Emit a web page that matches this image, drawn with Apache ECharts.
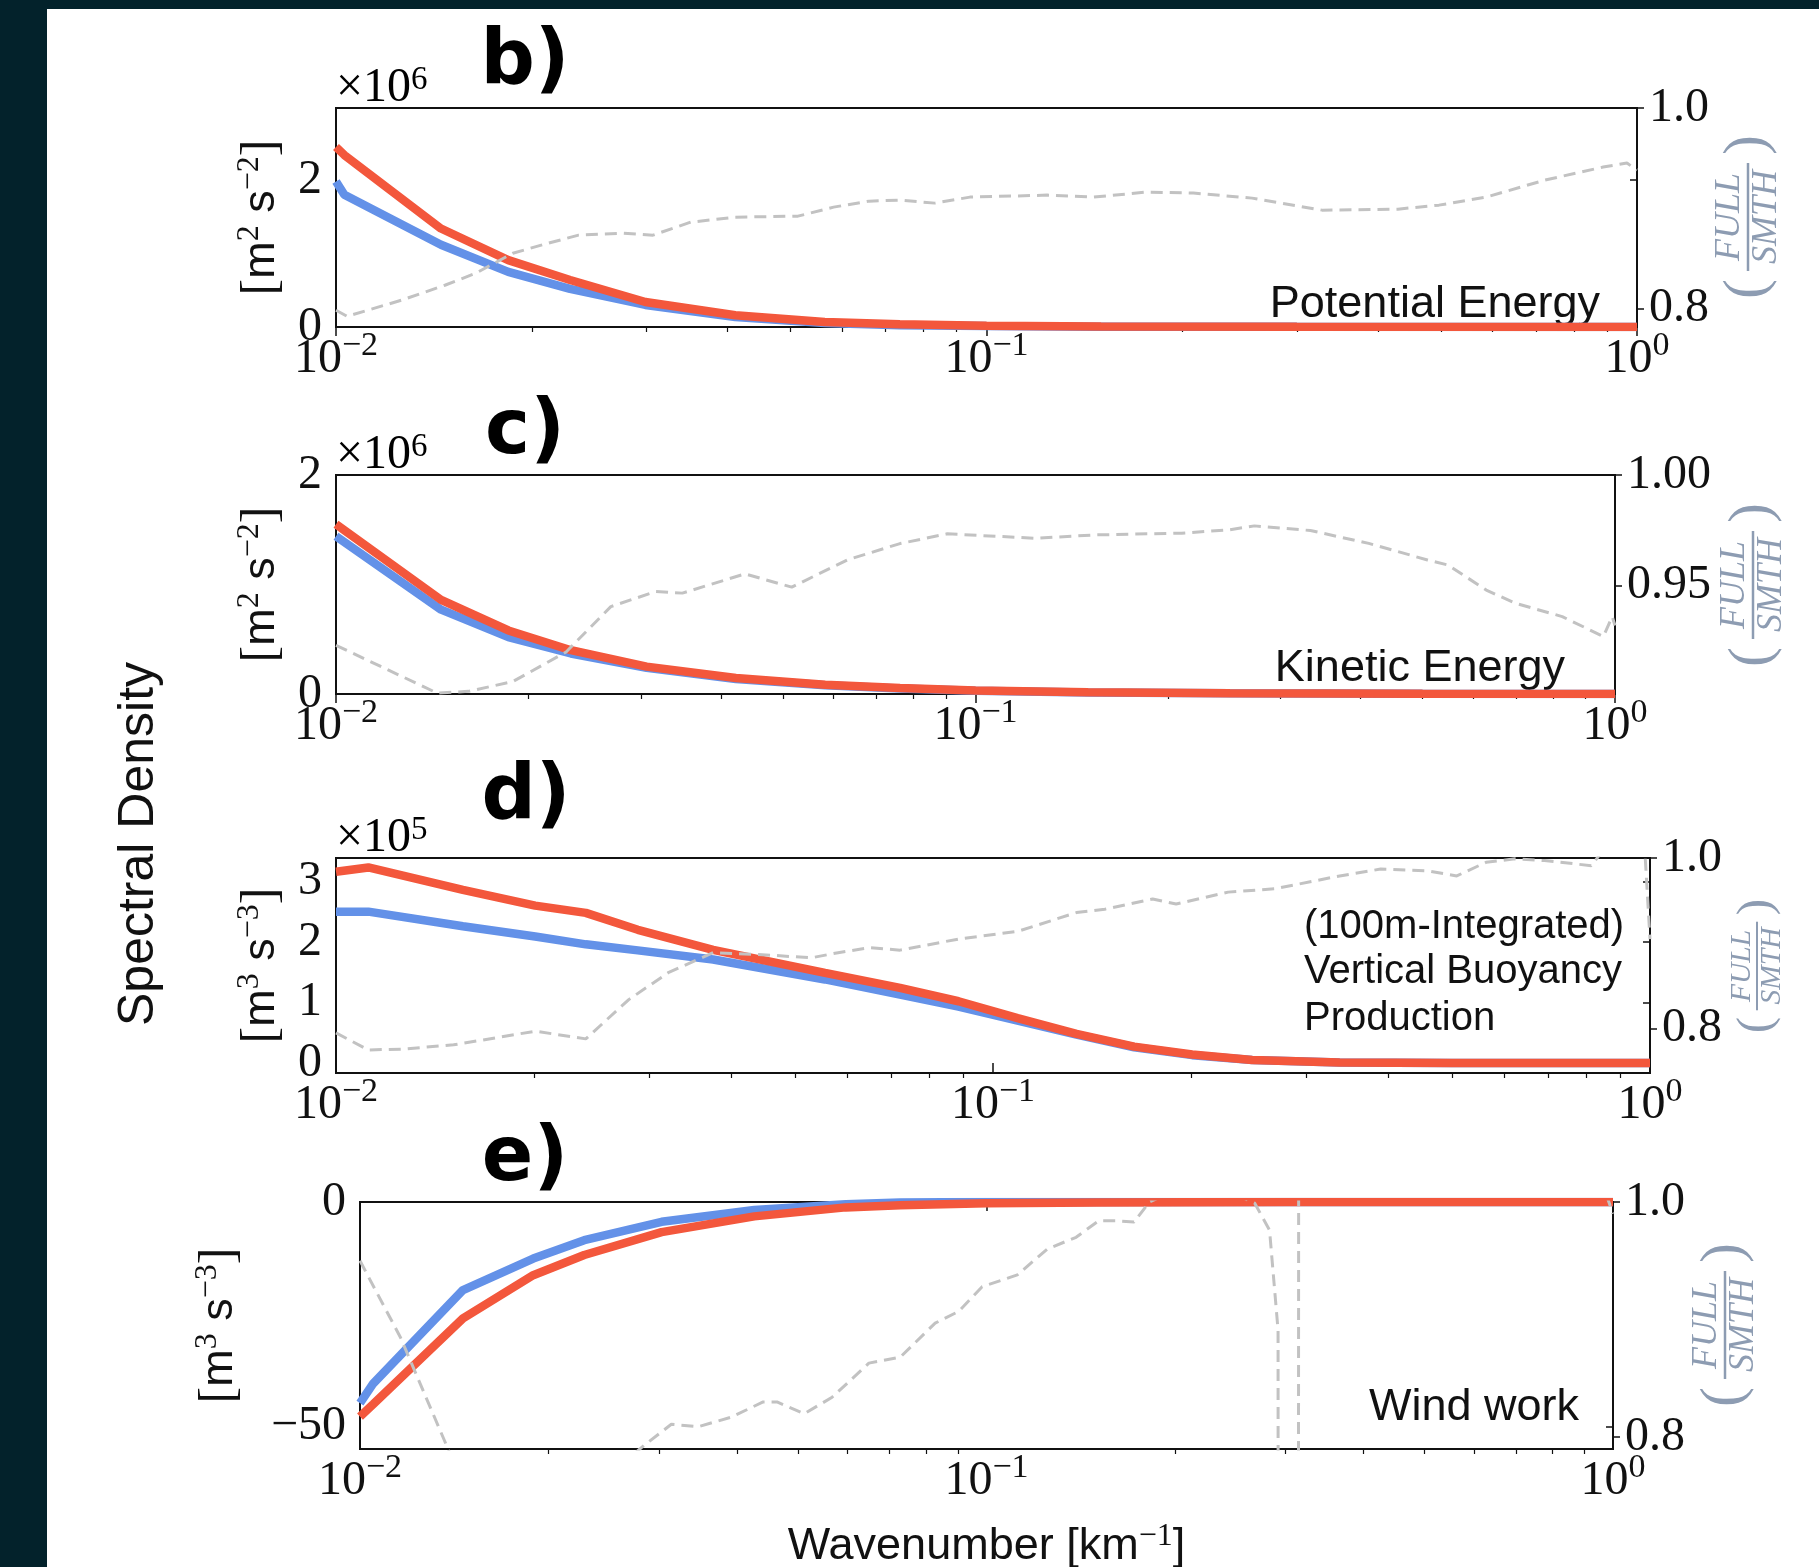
<!DOCTYPE html>
<html>
<head>
<meta charset="utf-8">
<script src="https://cdn.jsdelivr.net/npm/echarts@6/dist/echarts.min.js"></script>
<style>
html, body { margin: 0; padding: 0; background: #03222b; }
#paper { position: absolute; left: 47px; top: 9px; width: 1772px; height: 1558px; background: #fff; }
#chart { position: absolute; left: 0; top: 0; width: 1819px; height: 1567px; }
</style>
</head>
<body>
<div id="paper"></div>
<div id="chart"></div>
<script>
// b) potential energy, units of 1e6 m2 s-2
const kB = [0.01, 0.0103, 0.0145, 0.0184, 0.0229, 0.0299, 0.0411, 0.0564, 0.0736, 0.1, 0.15, 0.3, 1.0]
const peSmth = [2.45, 2.34, 1.34, 0.91, 0.64, 0.34, 0.16, 0.068, 0.037, 0.018, 0.008, 0.003, 0.0]
const peFull = [1.98, 1.80, 1.12, 0.75, 0.52, 0.30, 0.136, 0.055, 0.023, 0.012, 0.005, 0.002, 0.0]
const peRatioK = [0.01, 0.0104, 0.0126, 0.0147, 0.0164, 0.0187, 0.0212, 0.0236, 0.0277, 0.0307,
    0.0351, 0.0411, 0.0513, 0.0582, 0.0660, 0.0736, 0.0833, 0.0943, 0.124, 0.146,
    0.176, 0.208, 0.256, 0.328, 0.429, 0.496, 0.586, 0.722, 0.887, 0.965, 1.0]
const peRatio = [0.798, 0.792, 0.808, 0.823, 0.835, 0.855, 0.865, 0.873, 0.875, 0.873,
    0.886, 0.891, 0.892, 0.901, 0.907, 0.908, 0.905, 0.911, 0.913, 0.911,
    0.916, 0.915, 0.910, 0.898, 0.899, 0.903, 0.911, 0.928, 0.941, 0.945, 0.938]

// c) kinetic energy, units of 1e6 m2 s-2
const kC = [0.01, 0.0146, 0.0186, 0.0233, 0.0306, 0.0422, 0.0582, 0.0762, 0.1, 0.15, 0.25, 0.5, 1.0]
const keSmth = [1.55, 0.86, 0.58, 0.40, 0.25, 0.146, 0.085, 0.055, 0.033, 0.016, 0.007, 0.003, 0.001]
const keFull = [1.44, 0.77, 0.52, 0.37, 0.24, 0.137, 0.080, 0.050, 0.030, 0.014, 0.006, 0.002, 0.001]
const keRatioK = [0.01, 0.0144, 0.0161, 0.0189, 0.0229, 0.0269, 0.0316, 0.0348, 0.0436, 0.0516,
    0.063, 0.0762, 0.0903, 0.124, 0.153, 0.210, 0.249, 0.273, 0.334, 0.412,
    0.509, 0.548, 0.629, 0.699, 0.827, 0.959, 0.99, 1.0]
const keRatio = [0.923, 0.9014, 0.9022, 0.9066, 0.920, 0.9405, 0.9473, 0.9466, 0.9553, 0.9493,
    0.9616, 0.969, 0.9734, 0.9714, 0.9729, 0.9737, 0.9752, 0.977, 0.9749, 0.9691,
    0.9616, 0.9593, 0.948, 0.942, 0.936, 0.927, 0.936, 0.932]

// d) vertical buoyancy production, units of 1e5 m3 s-3
const kD = [0.01, 0.0112, 0.0156, 0.0201, 0.024, 0.0288, 0.0375, 0.0555, 0.0722, 0.0886,
    0.109, 0.134, 0.164, 0.201, 0.248, 0.337, 0.5, 1.0]
const vbSmth = [3.16, 3.23, 2.86, 2.60, 2.48, 2.20, 1.87, 1.49, 1.24, 1.02,
    0.74, 0.48, 0.27, 0.14, 0.05, 0.01, 0.0, 0.0]
const vbFull = [2.50, 2.50, 2.26, 2.09, 1.96, 1.86, 1.71, 1.38, 1.13, 0.93,
    0.70, 0.47, 0.26, 0.13, 0.05, 0.01, 0.0, 0.0]
const vbRatioK = [0.01, 0.0112, 0.0126, 0.0151, 0.0201, 0.024, 0.0279, 0.0321, 0.0375, 0.0439,
    0.0529, 0.0581, 0.0649, 0.0722, 0.0886, 0.109, 0.134, 0.148, 0.175, 0.190,
    0.228, 0.269, 0.337, 0.389, 0.458, 0.508, 0.563, 0.623, 0.691, 0.814, 0.87, 0.98, 1.0]
const vbRatio = [0.795, 0.775, 0.776, 0.781, 0.797, 0.788, 0.834, 0.866, 0.889, 0.887,
    0.883, 0.889, 0.895, 0.892, 0.905, 0.914, 0.936, 0.940, 0.952, 0.946,
    0.960, 0.964, 0.979, 0.987, 0.985, 0.979, 0.995, 0.999, 0.997, 0.991, 1.02, 1.02, 0.905]

// e) wind work, m3 s-3
const kE = [0.01, 0.0105, 0.0146, 0.0189, 0.0228, 0.0303, 0.0426, 0.0596, 0.0728, 0.1, 0.15, 0.3, 1.0]
const wwSmth = [-47.8, -45.0, -25.9, -16.3, -11.8, -6.7, -3.2, -1.2, -0.7, -0.3, -0.1, 0, 0]
const wwFull = [-44.8, -40.4, -19.6, -12.6, -8.5, -4.4, -1.8, -0.5, -0.1, 0, 0, 0, 0]
const wwRatioK = [0.01, 0.0116, 0.0145, 0.0189, 0.0228, 0.0284, 0.0314, 0.0347, 0.0391, 0.044,
    0.0463, 0.0512, 0.0567, 0.0649, 0.0728, 0.0828, 0.0903, 0.0984, 0.112, 0.125,
    0.139, 0.151, 0.162, 0.172, 0.182, 0.22, 0.268, 0.283, 0.292, 0.3006,
    0.3285, 0.4, 0.6, 0.8, 0.97, 1.0]
const wwRatio = [0.950, 0.885, 0.764, 0.74, 0.75, 0.793, 0.811, 0.809, 0.817, 0.830,
    0.830, 0.820, 0.834, 0.863, 0.868, 0.897, 0.907, 0.928, 0.938, 0.960,
    0.970, 0.984, 0.984, 0.983, 1.0, 1.02, 0.999, 0.976, 0.891, -20,
    20, 1.5, 1.2, 1.1, 1.01, 0.99]

// tick values
const peTicks = [0, 2]
const keTicks = [0, 2]
const vbTicks = [0, 1, 2, 3]
const wwTicks = [-50, 0]
const ratioTicks = [0.8, 1.0]
const keRatioTicks = [0.95, 1.0]
const minorK = [0.02, 0.03, 0.04, 0.05, 0.06, 0.07, 0.08, 0.09, 0.2, 0.3, 0.4, 0.5, 0.6, 0.7, 0.8, 0.9]

const SANS = '"Liberation Sans", Arial, sans-serif'
const SERIF = '"Liberation Serif", "Times New Roman", serif'
const INK = '#111'
const BLUE = '#6391e8'
const RED = '#f3573c'
const GRAY = '#c2c2c2'
const FRAC = '#8d9cb2'

const minus = v => (v < 0 ? '\u2212' + (-v) : '' + v)
const zip = (xs, ys) => xs.map((x, i) => [x, ys[i]])

const tickRich = {
    n: { fontFamily: SERIF, fontSize: 48, lineHeight: 60, color: INK },
    s: { fontFamily: SERIF, fontSize: 34, lineHeight: 34, verticalAlign: 'top', color: INK }
}
const unitRich = {
    b: { fontFamily: SERIF, fontSize: 50, lineHeight: 56, color: INK },
    u: { fontFamily: SANS, fontSize: 45, lineHeight: 56, color: INK },
    s: { fontFamily: SERIF, fontSize: 32, lineHeight: 32, verticalAlign: 'top', color: INK }
}
const multRich = {
    n: { fontFamily: SERIF, fontSize: 48, lineHeight: 48, color: INK },
    s: { fontFamily: SERIF, fontSize: 33, lineHeight: 30, verticalAlign: 'top', color: INK }
}

const panels = [
    { box: { left: 336, top: 108, width: 1301, height: 219 }, k: kB, full: peFull, smth: peSmth,
      rk: peRatioK, ratio: peRatio, y: [0, 2.98], yTicks: peTicks, unit: '{b|[}{u|m}{s|2}{u| s}{s|\u22122}{b|]}',
      r: [0.7813, 1.0], rTicks: ratioTicks, rDec: 1, nameGap: 46 },
    { box: { left: 336, top: 475, width: 1279, height: 219 }, k: kC, full: keFull, smth: keSmth,
      rk: keRatioK, ratio: keRatio, y: [0, 2], yTicks: keTicks, unit: '{b|[}{u|m}{s|2}{u| s}{s|\u22122}{b|]}',
      r: [0.901, 1.0], rTicks: keRatioTicks, rDec: 2, nameGap: 46 },
    { box: { left: 336, top: 858, width: 1314, height: 215 }, k: kD, full: vbFull, smth: vbSmth,
      rk: vbRatioK, ratio: vbRatio, y: [-0.165, 3.386], yTicks: vbTicks, unit: '{b|[}{u|m}{s|3}{u| s}{s|\u22123}{b|]}',
      r: [0.748, 1.0], rTicks: ratioTicks, rDec: 1, nameGap: 46 },
    { box: { left: 360, top: 1202, width: 1253, height: 247 }, k: kE, full: wwFull, smth: wwSmth,
      rk: wwRatioK, ratio: wwRatio, y: [-55, 0], yTicks: wwTicks, unit: '{b|[}{u|m}{s|3}{u| s}{s|\u22123}{b|]}',
      r: [0.79, 1.0], rTicks: ratioTicks, rDec: 1, nameGap: 112 }
]

const grids = [], xAxes = [], yAxes = [], series = []
panels.forEach((p, i) => {
    grids.push(Object.assign({
        show: true, borderColor: INK, borderWidth: 2, backgroundColor: 'transparent',
        containLabel: false, outerBoundsMode: 'none'
    }, p.box))
    const last = i === panels.length - 1
    xAxes.push({
        type: 'log', logBase: 10, gridIndex: i, min: 0.01, max: 1, position: 'bottom',
        axisLine: { show: false }, splitLine: { show: false },
        minorTick: { show: false }, minorSplitLine: { show: false },
        axisTick: { show: true, inside: false, length: 9, lineStyle: { color: INK, width: 1.5 } },
        axisLabel: {
            margin: 2, hideOverlap: false,
            formatter: v => '{n|10}{s|' + minus(Math.round(Math.log10(v))) + '}',
            rich: tickRich
        },
        name: last ? '{u|Wavenumber [km}{s|\u22121}{u|]}' : '',
        nameLocation: 'middle', nameGap: 72, nameMoveOverlap: false,
        nameTextStyle: { rich: { u: { fontFamily: SANS, fontSize: 45, lineHeight: 52, color: INK }, s: unitRich.s } }
    })
    xAxes.push({
        type: 'value', gridIndex: i, min: -2, max: 0, position: 'bottom',
        axisLine: { show: false }, splitLine: { show: false }, axisLabel: { show: false },
        axisTick: { show: true, length: 5, customValues: minorK.map(Math.log10), lineStyle: { color: INK, width: 1.2 } }
    })
    yAxes.push({
        type: 'value', gridIndex: i, position: 'left', min: p.y[0], max: p.y[1],
        axisLine: { show: false }, splitLine: { show: false },
        axisTick: { show: true, length: 7, customValues: p.yTicks, lineStyle: { color: INK, width: 1.5 } },
        axisLabel: { customValues: p.yTicks, margin: 14, fontFamily: SERIF, fontSize: 48, color: INK, formatter: v => minus(v) },
        name: p.unit, nameLocation: 'middle', nameRotate: 90, nameGap: p.nameGap, nameMoveOverlap: false,
        nameTextStyle: { rich: unitRich }
    })
    yAxes.push({
        type: 'value', gridIndex: i, position: 'right', min: p.r[0], max: p.r[1],
        axisLine: { show: false }, splitLine: { show: false },
        axisTick: { show: true, length: 7, customValues: p.rTicks, lineStyle: { color: INK, width: 1.5 } },
        axisLabel: { customValues: p.rTicks, margin: 12, fontFamily: SERIF, fontSize: 48, color: INK, formatter: v => v.toFixed(p.rDec) }
    })
    series.push({
        type: 'line', name: 'FULL', xAxisIndex: 2 * i, yAxisIndex: 2 * i, data: zip(p.k, p.full),
        symbol: 'none', clip: true, z: 3, lineStyle: { color: BLUE, width: 8.5 }
    })
    series.push({
        type: 'line', name: 'SMTH', xAxisIndex: 2 * i, yAxisIndex: 2 * i, data: zip(p.k, p.smth),
        symbol: 'none', clip: true, z: 4, lineStyle: { color: RED, width: 8.5 }
    })
    series.push({
        type: 'line', name: 'FULL/SMTH', xAxisIndex: 2 * i, yAxisIndex: 2 * i + 1, data: zip(p.rk, p.ratio),
        symbol: 'none', clip: true, z: 5, lineStyle: { color: GRAY, width: 3, type: [12, 7] }
    })
})

function label(text, x, y, size, align, extra) {
    return Object.assign({
        type: 'text', x: x, y: y, silent: true,
        style: { text: text, fontFamily: SANS, fontSize: size, fill: INK, align: align, verticalAlign: 'middle' }
    }, extra || {})
}
function panelLetter(text, x, y) {
    return {
        type: 'text', x: x, y: y, silent: true,
        style: { text: text, fontFamily: '"DejaVu Sans", sans-serif', fontWeight: 'bold', fontSize: 76, fill: '#000', align: 'center', verticalAlign: 'middle' }
    }
}
function mult(exp, x, y) {
    return {
        type: 'text', x: x, y: y, silent: true,
        style: { text: '{n|\u00d710}{s|' + exp + '}', rich: multRich, align: 'left', verticalAlign: 'bottom' }
    }
}
function fraction(cx, cy, s) {
    const t = { fontFamily: SERIF, fontStyle: 'italic', fontSize: 36, fill: FRAC, align: 'center', verticalAlign: 'middle' }
    const par = { fontFamily: SERIF, fontSize: 60, fontWeight: 'lighter', fill: FRAC, align: 'center', verticalAlign: 'middle' }
    return {
        type: 'group', x: cx, y: cy, rotation: Math.PI / 2, scaleX: s, scaleY: s, silent: true,
        children: [
            { type: 'text', x: 0, y: -18, style: Object.assign({ text: 'FULL' }, t) },
            { type: 'line', shape: { x1: -54, y1: 0, x2: 54, y2: 0 }, style: { stroke: FRAC, lineWidth: 2.5 } },
            { type: 'text', x: 0, y: 19, style: Object.assign({ text: 'SMTH' }, t) },
            { type: 'text', x: -72, y: 0, style: Object.assign({ text: '(' }, par) },
            { type: 'text', x: 72, y: 0, style: Object.assign({ text: ')' }, par) }
        ]
    }
}

const graphics = [
    panelLetter('b)', 525, 63),
    panelLetter('c)', 525, 433),
    panelLetter('d)', 526, 798),
    panelLetter('e)', 525, 1160),
    mult('6', 336, 112),
    mult('6', 336, 479),
    mult('5', 336, 862),
    label('Potential Energy', 1600, 305, 45, 'right'),
    label('Kinetic Energy', 1565, 669, 45, 'right'),
    label('(100m-Integrated)', 1304, 927, 40, 'left'),
    label('Vertical Buoyancy', 1304, 972, 40, 'left'),
    label('Production', 1304, 1019, 40, 'left'),
    label('Wind work', 1579, 1408, 45, 'right'),
    label('Spectral Density', 139, 844, 50, 'center', { rotation: Math.PI / 2 }),
    fraction(1748, 217, 1),
    fraction(1753, 585, 1),
    fraction(1757, 966, 0.82),
    fraction(1725, 1325, 1)
]

const chart = echarts.init(document.getElementById('chart'), null, { renderer: 'canvas' })
chart.setOption({
    animation: false,
    backgroundColor: 'transparent',
    grid: grids,
    xAxis: xAxes,
    yAxis: yAxes,
    series: series,
    graphic: { elements: graphics }
})
</script>
</body>
</html>
